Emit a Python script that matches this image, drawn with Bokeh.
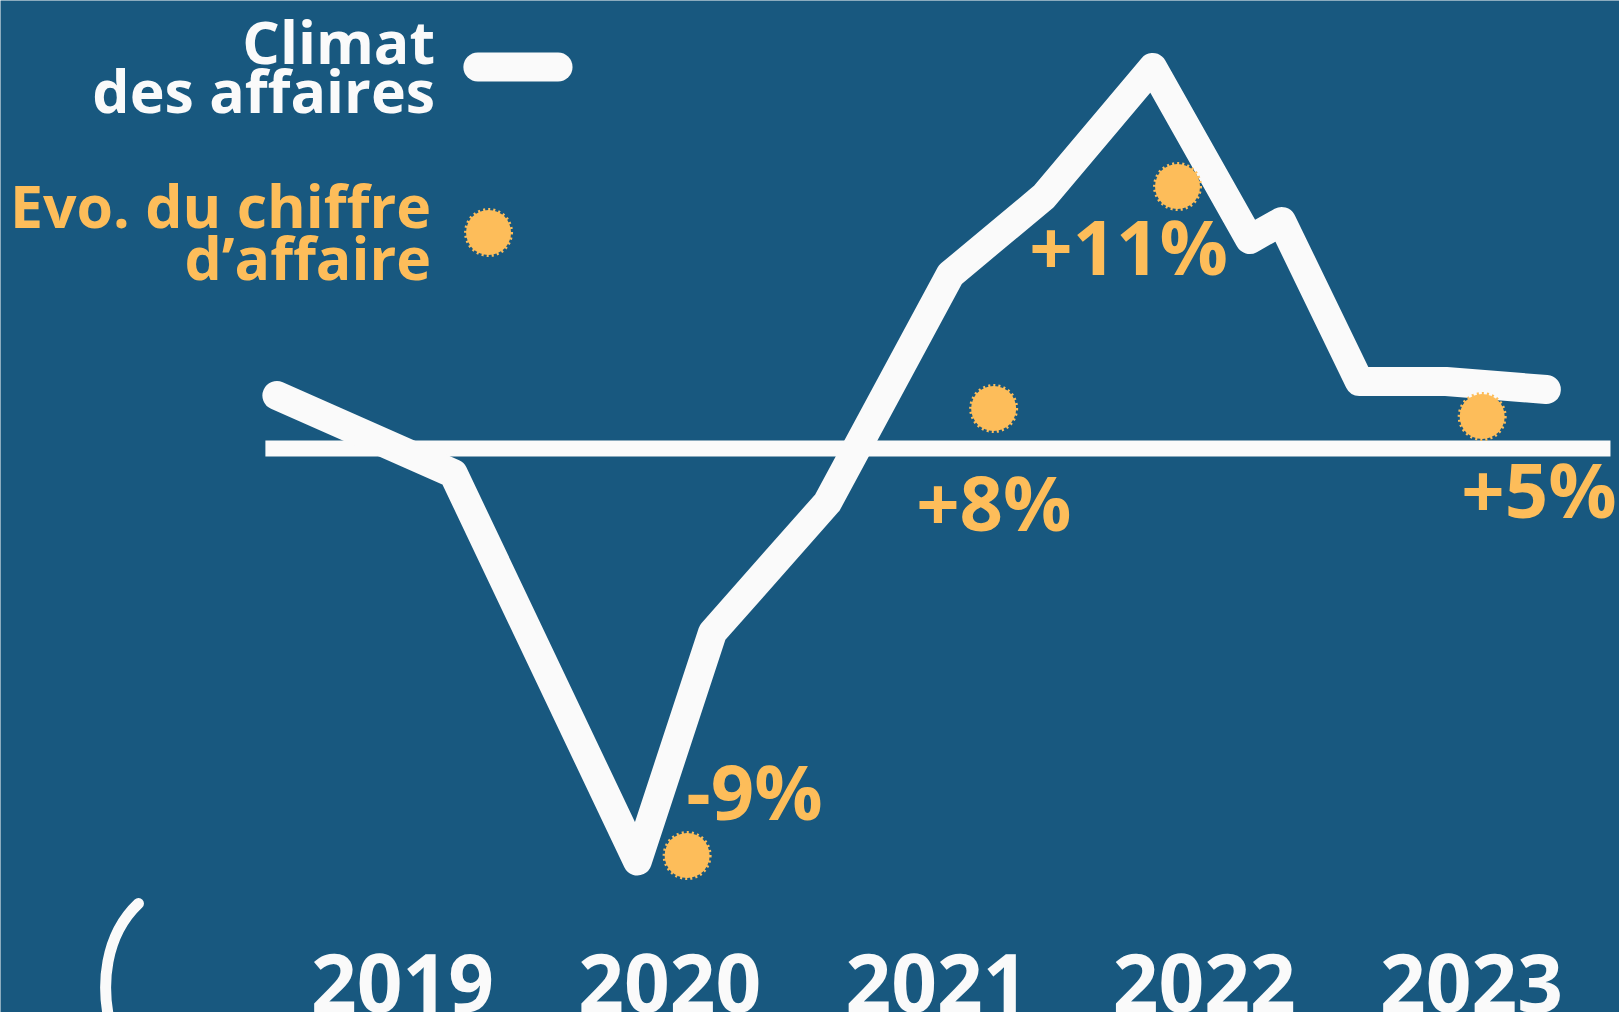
from bokeh.plotting import figure
from bokeh.models import Range1d
from bokeh.embed import file_html
from bokeh.resources import INLINE
from bokeh.core.properties import value

BG = "#18587F"
WHITE = "#FAFAFA"
ORANGE = "#FDBD5A"
FONT = value("Open Sans")

# Climat des affaires (écart à la moyenne)
climat_x = [2018.53, 2019.19, 2019.879, 2020.16, 2020.59, 2021.05, 2021.40,
            2021.807, 2022.17, 2022.29, 2022.58, 2022.905, 2023.28]
climat_y = [5.3, -2.5, -41.25, -18.4, -5.4, 17.4, 25.2, 38.1, 20.9, 22.7,
            6.7, 6.7, 5.9]

# Evolution du chiffre d'affaires (points + étiquettes)
ca_x = [2020.065, 2021.212, 2021.900, 2023.040]
ca_y = [-40.7, 4.0, 26.2, 3.2]
ca_labels = ["-9%", "+8%", "+11%", "+5%"]
ca_label_x = [2020.062, 2020.922, 2021.345, 2022.962]
ca_label_y = [-34.2, -5.25, 20.3, -3.95]

# Axe des années
years = [2019, 2020, 2021, 2022, 2023]
year_labels = ["2019", "2020", "2021", "2022", "2023"]
year_label_y = -53.4

# Ligne zéro
zero_x = [2018.487, 2023.520]
zero_y = [0, 0]

# Légende
legend_line_x = [2019.282, 2019.582]
legend_line_y = [38.15, 38.15]
legend_dot_x = [2019.322]
legend_dot_y = [21.6]
legend_white_text = ["Climat", "des affaires"]
legend_white_x = [2019.122, 2019.122]
legend_white_y = [40.8, 35.9]
legend_orange_text = ["Evo. du chiffre", "d\u2019affaire"]
legend_orange_x = [2019.107, 2019.107]
legend_orange_y = [24.35, 19.15]

# Parenthèse décorative en bas à gauche
deco = dict(x0=[2018.012], y0=[-45.5], cx0=[2017.885], cy0=[-48.7],
            cx1=[2017.870], cy1=[-53.7], x1=[2017.907], y1=[-57.7])

p = figure(width=1619, height=1012,
           x_range=Range1d(2017.4958, 2023.5538), y_range=Range1d(-56.4, 44.8),
           x_axis_type=None, y_axis_type=None,
           output_backend="svg", toolbar_location=None,
           min_border=0, min_border_left=0, min_border_right=0,
           min_border_top=0, min_border_bottom=0,
           background_fill_color=BG, border_fill_color=BG,
           outline_line_color=None)
p.grid.visible = False

p.line(zero_x, zero_y, line_width=16, line_color=WHITE, line_cap="butt")
p.line(climat_x, climat_y, line_width=29, line_color=WHITE,
       line_join="round", line_cap="round")

p.scatter(ca_x, ca_y, marker="circle", size=45, fill_color=ORANGE,
          line_color=ORANGE, line_width=4, line_dash="2 3")
p.text(ca_label_x, ca_label_y, text=ca_labels, text_font=FONT,
       text_font_style="bold", text_font_size="76px", text_color=ORANGE,
       text_align="left", text_baseline="alphabetic")

p.text(years, [year_label_y] * len(years), text=year_labels, text_font=FONT,
       text_font_style="bold", text_font_size="80px", text_color=WHITE,
       text_align="center", text_baseline="alphabetic")

# Légende
p.line(legend_line_x, legend_line_y, line_width=29, line_color=WHITE,
       line_cap="round")
p.scatter(legend_dot_x, legend_dot_y, marker="circle", size=45,
          fill_color=ORANGE, line_color=ORANGE, line_width=4, line_dash="2 3")
p.text(legend_white_x, legend_white_y, text=legend_white_text, text_font=FONT,
       text_font_style="bold", text_font_size="59px", text_color=WHITE,
       text_align="right", text_baseline="alphabetic")
p.text(legend_orange_x, legend_orange_y, text=legend_orange_text,
       text_font=FONT, text_font_style="bold", text_font_size="59px",
       text_color=ORANGE, text_align="right", text_baseline="alphabetic")

p.bezier(line_color=WHITE, line_width=11, line_cap="round", **deco)

open("out.html", "w").write(file_html(p, INLINE))
